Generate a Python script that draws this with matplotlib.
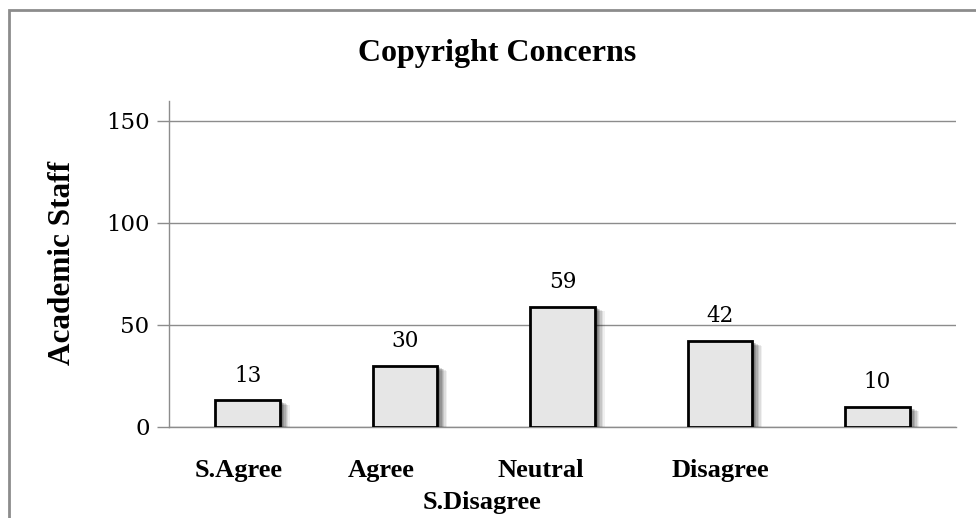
import matplotlib.pyplot as plt
import matplotlib.patches as mpatches
import matplotlib.patheffects as pe
import matplotlib.transforms as mtransforms

categories = ["S.Agree", "Agree", "Neutral", "Disagree", "S.Disagree"]
values = [13, 30, 59, 42, 10]
yticks = [0, 50, 100, 150]

# Excel spreads the category labels oddly; x centres (data units) and row
label_x = [-0.06, 0.85, 1.86, 3.0, 1.49]
label_row = [0, 0, 0, 0, 1]

serif = "Liberation Serif"
num_font = "DejaVu Serif"

fig = plt.figure(figsize=(9.76, 5.18), dpi=100)
ax = fig.add_axes([0.1732, 0.1757, 0.8063, 0.6301])

# outer chart border (cut off at right and bottom like the source)
fig.patches.append(mpatches.Rectangle((9 / 976, -0.1), 1.2, 1 - 10 / 518 + 0.1,
                                      transform=fig.transFigure, fill=False,
                                      edgecolor="#8c8c8c", lw=2))

# soft drop shadow to the lower right, built from stacked offsets
shadow = [pe.SimplePatchShadow(offset=(d, -d * 0.5), shadow_rgbFace="black", alpha=a)
          for d, a in [(7, 0.06), (6, 0.08), (5, 0.1), (4, 0.12), (3, 0.14), (2, 0.16)]]
shadow.append(pe.Normal())

x = list(range(len(categories)))
bars = ax.bar(x, values, width=0.41, color="#e6e6e6", edgecolor="black",
              linewidth=2, zorder=3)
for b in bars:
    b.set_path_effects(shadow)

for xi, v in zip(x, values):
    ax.annotate(str(v), (xi, v), xytext=(0, 10), textcoords="offset points",
                ha="center", va="bottom", fontsize=15.5, family=num_font)

ax.set_xlim(-0.5, len(categories) - 0.5)
ax.set_ylim(0, 160)
ax.set_yticks(yticks)
ax.set_yticklabels([str(t) for t in yticks], fontsize=16.5, family=num_font)
ax.tick_params(axis="y", length=9, color="#8c8c8c", width=1, pad=5)
ax.set_xticks([])
ax.grid(axis="y", color="#8c8c8c", lw=1, zorder=0)
ax.set_axisbelow(True)
for s in ["top", "right"]:
    ax.spines[s].set_visible(False)
ax.spines["left"].set_color("#8c8c8c")
ax.spines["bottom"].set_color("#8c8c8c")
ax.spines["left"].set_linewidth(1)
ax.spines["bottom"].set_linewidth(1)

trans = mtransforms.blended_transform_factory(ax.transData, ax.transAxes)
for name, lx, row in zip(categories, label_x, label_row):
    ax.text(lx, -0.132 - row * 0.1, name, transform=trans, ha="center",
            va="center", fontsize=19, fontweight="bold", family=serif)

fig.text(62 / 976, 1 - 263 / 518, "Academic Staff", rotation=90, ha="center",
         va="center", fontsize=22.5, fontweight="bold", family=serif)
fig.text(497 / 976, 1 - 53 / 518, "Copyright Concerns", ha="center", va="center",
         fontsize=23, fontweight="bold", family=serif)

fig.savefig("out.png", dpi=100)
